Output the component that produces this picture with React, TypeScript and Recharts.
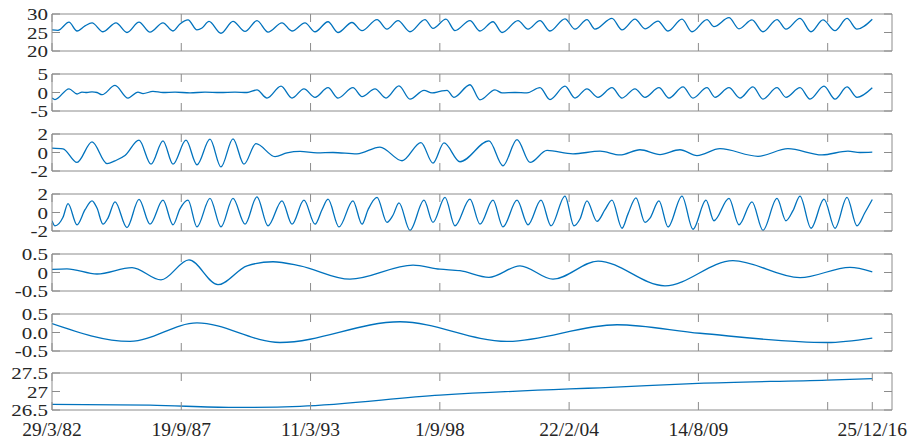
import React from 'react';
import { LineChart, Line, XAxis, YAxis } from 'recharts';

// time axis: days since 29/3/82
const xDomainMax = 12995;
const xTicksUpper = [0, 2000, 4000, 6000, 8000, 10000, 12000];
const xTicksBottom = [0, 2000, 4000, 6000, 8000, 10000, 12000, 12690];
const xTickLabels = ['29/3/82', '19/9/87', '11/3/93', '1/9/98', '22/2/04', '14/8/09', '', '25/12/16'];

const observed: [number, number][] = [
  [0, 25.7], [93, 25.6], [263, 27.8], [387, 25.4], [511, 26.8], [619, 27.6], [789, 25.2], [990, 27.6],
  [1160, 25.0], [1346, 27.8], [1516, 25.1], [1717, 27.6], [1872, 25.4], [1980, 27.3], [2104, 28.4],
  [2243, 25.7], [2321, 26.2], [2429, 28.0], [2614, 24.8], [2800, 28.0], [2986, 25.3], [3171, 28.2],
  [3342, 25.1], [3558, 27.6], [3713, 25.4], [3914, 27.6], [4069, 25.2], [4270, 27.9], [4424, 25.0],
  [4641, 27.7], [4796, 25.5], [5028, 28.5], [5182, 25.9], [5353, 28.2], [5538, 25.2], [5770, 28.5],
  [5894, 26.1], [6095, 28.6], [6234, 25.5], [6466, 28.2], [6621, 25.4], [6822, 27.9], [6962, 25.0],
  [7209, 28.2], [7364, 25.9], [7549, 28.2], [7704, 25.4], [7936, 28.7], [8091, 25.9], [8276, 28.5],
  [8400, 25.9], [8663, 28.8], [8818, 25.7], [9019, 28.6], [9174, 26.0], [9375, 28.1], [9530, 25.4],
  [9746, 28.6], [9901, 25.2], [10133, 28.5], [10241, 26.6], [10473, 29.0], [10628, 26.0], [10829, 28.4],
  [10999, 25.2], [11216, 28.5], [11355, 25.9], [11572, 28.8], [11742, 25.2], [11927, 28.4], [12113, 25.5],
  [12299, 28.8], [12453, 25.9], [12690, 28.6],
];

const imf1: [number, number][] = [
  [0, -1.5], [46, -1.9], [263, 1.0], [387, -0.4], [464, 0.1], [541, 0.0], [619, 0.15], [696, 0.0],
  [774, -0.6], [975, 1.9], [1176, -1.5], [1330, 0.1], [1408, -0.3], [1562, 0.3], [1717, 0.0], [1903, 0.1],
  [2135, -0.1], [2367, 0.1], [2599, 0.0], [2831, 0.1], [3017, 0.0], [3171, 0.7], [3326, -1.5], [3543, 1.7],
  [3713, -1.5], [3898, 1.0], [4069, -1.3], [4270, 1.3], [4424, -1.5], [4656, 1.3], [4796, -1.1], [4997, 1.0],
  [5167, -1.5], [5368, 1.8], [5538, -1.8], [5755, 0.6], [5879, -0.1], [6002, 0.3], [6111, 0.6], [6219, -1.3],
  [6466, 2.1], [6621, -2.0], [6853, 0.7], [6962, -0.1], [7163, 0.0], [7348, -0.1], [7549, 1.3], [7704, -1.9],
  [7936, 1.7], [8091, -1.5], [8276, 1.0], [8447, -1.3], [8663, 1.3], [8818, -1.5], [9019, 1.0], [9174, -1.3],
  [9390, 1.3], [9545, -1.5], [9762, 1.5], [9916, -1.5], [10133, 1.3], [10257, -1.3], [10473, 1.3],
  [10643, -1.5], [10844, 1.5], [10999, -1.8], [11216, 1.3], [11355, -1.3], [11572, 1.3], [11726, -1.8],
  [11943, 1.7], [12113, -1.8], [12299, 1.5], [12453, -1.3], [12690, 1.3],
];

const imf2: [number, number][] = [
  [0, 0.48], [170, 0.4], [387, -1.07], [619, 1.15], [851, -1.2], [975, -0.9], [1129, -0.33], [1346, 1.33],
  [1532, -1.26], [1717, 1.26], [1872, -1.26], [2073, 1.33], [2243, -1.33], [2444, 1.44], [2614, -1.56],
  [2800, 1.48], [2970, -1.26], [3156, 0.96], [3450, -0.44], [3635, -0.04], [3837, 0.12], [4100, -0.04],
  [4347, 0.0], [4718, -0.15], [5074, 0.59], [5415, -0.89], [5708, 1.07], [5894, -1.15], [6064, 1.04],
  [6312, -1.0], [6760, 1.26], [6977, -1.44], [7194, 1.4], [7395, -1.07], [7658, 0.22], [8060, -0.15],
  [8478, 0.15], [8787, -0.26], [9096, 0.3], [9406, -0.22], [9715, 0.3], [9978, -0.33], [10334, 0.41],
  [10922, -0.41], [11386, 0.41], [11912, -0.26], [12314, 0.15], [12500, 0.0], [12690, 0.04],
];

const imf3: [number, number][] = [
  [0, -0.89], [46, -1.44], [170, -0.52], [248, 0.96], [387, -1.33], [511, 0.3], [619, 1.26], [696, 0.48],
  [789, -1.26], [866, -0.6], [975, 1.15], [1160, -1.63], [1346, 1.41], [1516, -1.26], [1717, 1.33],
  [1872, -1.33], [1980, 0.4], [2104, 1.33], [2243, -1.56], [2444, 1.52], [2614, -1.56], [2800, 1.52],
  [2986, -1.26], [3171, 1.7], [3342, -1.44], [3558, 1.26], [3713, -1.26], [3898, 1.33], [4069, -1.26],
  [4177, 0.3], [4270, 1.44], [4440, -1.56], [4656, 1.26], [4796, -1.26], [4889, 0.3], [5028, 1.63],
  [5182, -1.07], [5275, -0.3], [5368, 1.04], [5538, -1.93], [5755, 1.33], [5894, -1.07], [6080, 1.63],
  [6234, -1.44], [6466, 1.44], [6621, -1.26], [6822, 1.33], [6977, -1.56], [7194, 1.33], [7364, -1.33],
  [7565, 1.33], [7720, -1.44], [7936, 1.78], [8075, -1.44], [8168, -0.7], [8276, 1.26], [8431, -0.96],
  [8555, 0.3], [8663, 1.33], [8818, -1.7], [8911, -0.15], [9034, 1.59], [9174, -1.07], [9251, -0.6],
  [9390, 1.26], [9530, -1.56], [9746, 1.78], [9916, -1.81], [10117, 1.33], [10241, -0.89], [10473, 1.52],
  [10628, -1.33], [10829, 1.15], [10999, -1.93], [11216, 1.52], [11355, -0.89], [11463, 0.2], [11572, 1.78],
  [11742, -1.7], [11943, 1.44], [12113, -1.7], [12299, 1.63], [12453, -1.44], [12577, 0.0], [12690, 1.41],
];

const imf4: [number, number][] = [
  [0, 0.086], [232, 0.1], [696, -0.04], [1238, 0.13], [1686, -0.2], [2119, 0.34], [2568, -0.33],
  [3017, 0.18], [3419, 0.29], [3837, 0.18], [4610, -0.18], [5585, 0.2], [6002, 0.09], [6312, 0.05],
  [6760, -0.13], [7240, 0.18], [7750, -0.18], [8447, 0.31], [9483, -0.36], [10535, 0.32], [11572, -0.14],
  [12345, 0.14], [12690, 0.02],
];

const imf5: [number, number][] = [
  [0, 0.24], [1207, -0.24], [2243, 0.26], [3527, -0.27], [5384, 0.29], [7039, -0.24], [8741, 0.21],
  [10025, -0.02], [11989, -0.27], [12690, -0.15],
];

const residual: [number, number][] = [
  [0, 26.65], [1516, 26.63], [2800, 26.57], [3837, 26.6], [6002, 26.9], [8013, 27.07], [8478, 27.1],
  [9994, 27.22], [11989, 27.31], [12690, 27.35],
];

const yTicks1 = [20, 25, 30];
const yTicks2 = [-5, 0, 5];
const yTicks3 = [-2, 0, 2];
const yTicks4 = [-2, 0, 2];
const yTicks5 = [-0.5, 0, 0.5];
const yTicks6 = [-0.5, 0, 0.5];
const yTicks7 = [26.5, 27, 27.5];
const yLabels5 = ['-0.5', '0', '0.5'];
const yLabels6 = ['-0.5', '0.0', '0.5'];
const yLabels7 = ['26.5', '27', '27.5'];

const LINE_COLOR = '#0072BD';
const FRAME = '#8c8c8c';
const TEXT = '#262626';
const LEFT = 52;
const RIGHT = 892;
const W = 914;
const PLOT_H = 37;
const TICK = 8;

type Panel = {
  data: [number, number][];
  ticks: number[];
  labels?: string[];
};

const panels: Panel[] = [
  { data: observed, ticks: yTicks1 },
  { data: imf1, ticks: yTicks2 },
  { data: imf2, ticks: yTicks3 },
  { data: imf3, ticks: yTicks4 },
  { data: imf4, ticks: yTicks5, labels: yLabels5 },
  { data: imf5, ticks: yTicks6, labels: yLabels6 },
  { data: residual, ticks: yTicks7, labels: yLabels7 },
];

const serif = '"Liberation Serif", "Times New Roman", serif';

function PanelChart({ panel, index }: { panel: Panel; index: number }) {
  const last = index === panels.length - 1;
  const top = last ? 13 : 14;
  const height = last ? 84 : 60;
  const plotTop = top;
  const plotBottom = top + PLOT_H;
  const data = panel.data.map(([t, v]) => ({ t, v }));
  const xTicks = last ? xTicksBottom : xTicksUpper;
  const yMin = panel.ticks[0];
  const yMax = panel.ticks[panel.ticks.length - 1];

  const renderXTick = (props: any) => {
    const { x, payload } = props;
    const i = xTicksBottom.indexOf(payload.value);
    return (
      <g>
        <line x1={x} x2={x} y1={plotBottom} y2={plotBottom - TICK} stroke={FRAME} strokeWidth={1} />
        <line x1={x} x2={x} y1={plotTop} y2={plotTop + TICK} stroke={FRAME} strokeWidth={1} />
        {last && i >= 0 && xTickLabels[i] ? (
          <text x={x} y={plotBottom + 26} textAnchor="middle" fontFamily={serif} fontSize={19.5} fill={TEXT}>
            {xTickLabels[i]}
          </text>
        ) : null}
      </g>
    );
  };

  const renderYTick = (props: any) => {
    const { y, payload } = props;
    const i = panel.ticks.indexOf(payload.value);
    const label = panel.labels ? panel.labels[i] : String(payload.value);
    return (
      <g>
        <line x1={LEFT} x2={LEFT + TICK} y1={y} y2={y} stroke={FRAME} strokeWidth={1} />
        <line x1={RIGHT} x2={RIGHT - TICK} y1={y} y2={y} stroke={FRAME} strokeWidth={1} />
        <g transform={`translate(${LEFT - 4},${y}) scale(1,0.8)`}>
          <text x={0} y={0} dy="0.36em" textAnchor="end" fontFamily={serif} fontSize={21} fill={TEXT}>
            {label}
          </text>
        </g>
      </g>
    );
  };

  return (
    <div style={{ position: 'absolute', left: 0, top: last ? 360 : index * 60 }}>
      <LineChart
        width={W}
        height={height}
        data={data}
        margin={{ top: top - 1, right: W - RIGHT - 1, bottom: height - top - PLOT_H - 1, left: LEFT - 1 }}
      >
        <XAxis
          dataKey="t"
          type="number"
          domain={[0, xDomainMax]}
          allowDataOverflow
          ticks={xTicks}
          interval={0}
          height={1}
          tickLine={false}
          axisLine={{ stroke: FRAME }}
          tick={renderXTick}
        />
        <XAxis
          xAxisId="top"
          orientation="top"
          dataKey="t"
          type="number"
          domain={[0, xDomainMax]}
          allowDataOverflow
          height={1}
          tick={false}
          tickLine={false}
          axisLine={{ stroke: FRAME }}
        />
        <YAxis
          type="number"
          domain={[yMin, yMax]}
          allowDataOverflow
          ticks={panel.ticks}
          interval={0}
          width={1}
          tickLine={false}
          axisLine={{ stroke: FRAME }}
          tick={renderYTick}
        />
        <YAxis
          yAxisId="right"
          orientation="right"
          type="number"
          domain={[yMin, yMax]}
          allowDataOverflow
          width={1}
          tick={false}
          tickLine={false}
          axisLine={{ stroke: FRAME }}
        />
        <Line
          dataKey="v"
          type="monotone"
          stroke={LINE_COLOR}
          strokeWidth={1.3}
          dot={false}
          activeDot={false}
          isAnimationActive={false}
        />
      </LineChart>
    </div>
  );
}

export default function App() {
  return (
    <div style={{ position: 'absolute', left: 0, top: 0, width: W, height: 444, background: '#fff' }}>
      {panels.map((p, i) => (
        <PanelChart key={i} panel={p} index={i} />
      ))}
    </div>
  );
}
